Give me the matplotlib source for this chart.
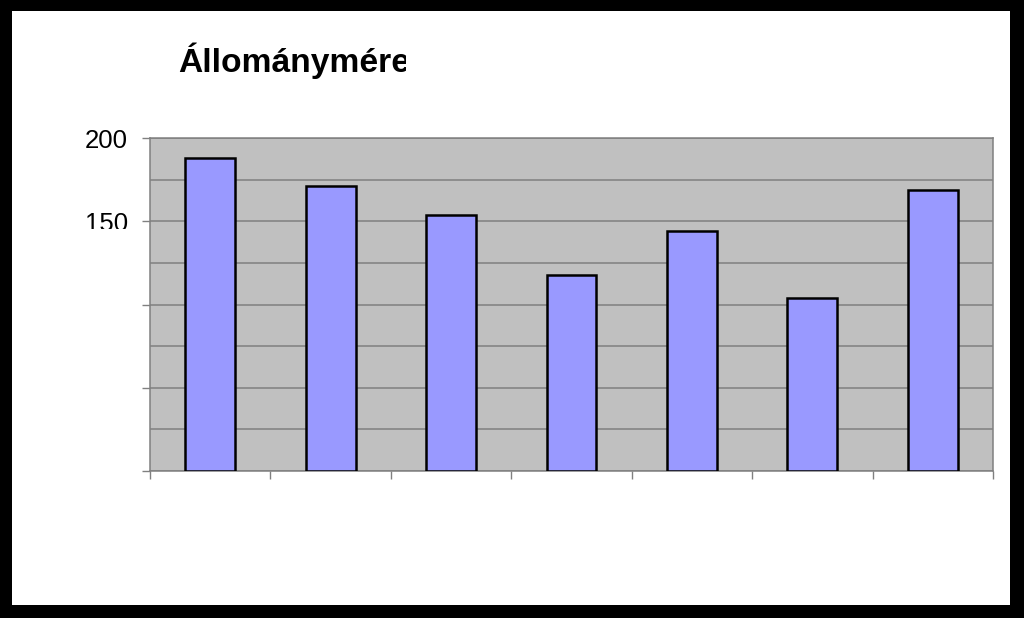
import numpy as np
import matplotlib
matplotlib.use("Agg")
import matplotlib.pyplot as plt
from matplotlib.patches import Rectangle
from matplotlib.transforms import Bbox, TransformedBbox
from matplotlib.ticker import MultipleLocator

# Data (category names are not visible in the reference)
categories = ["1", "2", "3", "4", "5", "6", "7"]
values = [188, 171, 154, 118, 144, 104, 169]
ytick_values = [0, 50, 100, 150, 200]
ytick_labels = ["", "", "", "150", "200"]
title = "Állományméret"

W, H = 1024, 618
plt.rcParams['font.family'] = ['Liberation Sans', 'DejaVu Sans']

fig = plt.figure(figsize=(W / 100, H / 100), dpi=100)
fig.patch.set_facecolor("black")

# white page inside the black frame
fig.add_artist(Rectangle((12 / W, 1 - 605 / H), (1010 - 12) / W, (605 - 11) / H,
                         transform=fig.transFigure, facecolor="white",
                         edgecolor="none", zorder=0))

ax = fig.add_axes([150 / W, 1 - 471 / H, (993 - 150) / W, (471 - 138) / H])
ax.set_facecolor("#C0C0C0")

x = np.arange(len(categories))
ax.bar(x, values, width=0.415, color="#9999FF", edgecolor="black",
       linewidth=1.8, zorder=3)

ax.set_xlim(-0.5, len(categories) - 0.5)
ax.set_ylim(0, 200)

# y axis: major ticks every 50, gridlines every 25
ax.set_yticks(ytick_values, ytick_labels)
ax.yaxis.set_minor_locator(MultipleLocator(25))
ax.grid(axis="y", which="both", color="#808080", linewidth=1.1, zorder=1)
ax.tick_params(axis="y", which="major", direction="out", length=6,
               width=1, color="#808080", pad=10, labelsize=18.5)
ax.tick_params(axis="y", which="minor", length=0)

# x axis: ticks on category boundaries, no labels
ax.set_xticks(np.arange(-0.5, len(categories)), [""] * (len(categories) + 1))
ax.tick_params(axis="x", direction="out", length=6, width=1, color="#808080")

for s in ax.spines.values():
    s.set_color("#808080")
    s.set_linewidth(1.1)

# the "150" label is cut off at the bottom in the original
clip_lab = TransformedBbox(Bbox.from_extents(0, 1 - 229 / H, 1, 1), fig.transFigure)
for lbl in ax.get_yticklabels():
    lbl.set_clip_on(True)
    lbl.set_clip_box(clip_lab)

# title, cut off on the right
t = fig.text(178 / W, 1 - 72 / H, title, fontsize=24.2, fontweight="bold",
             ha="left", va="baseline", color="black")
t.set_clip_on(True)
t.set_clip_box(TransformedBbox(Bbox.from_extents(0, 0, 406 / W, 1), fig.transFigure))

fig.savefig("out.png", dpi=100, facecolor=fig.get_facecolor())
